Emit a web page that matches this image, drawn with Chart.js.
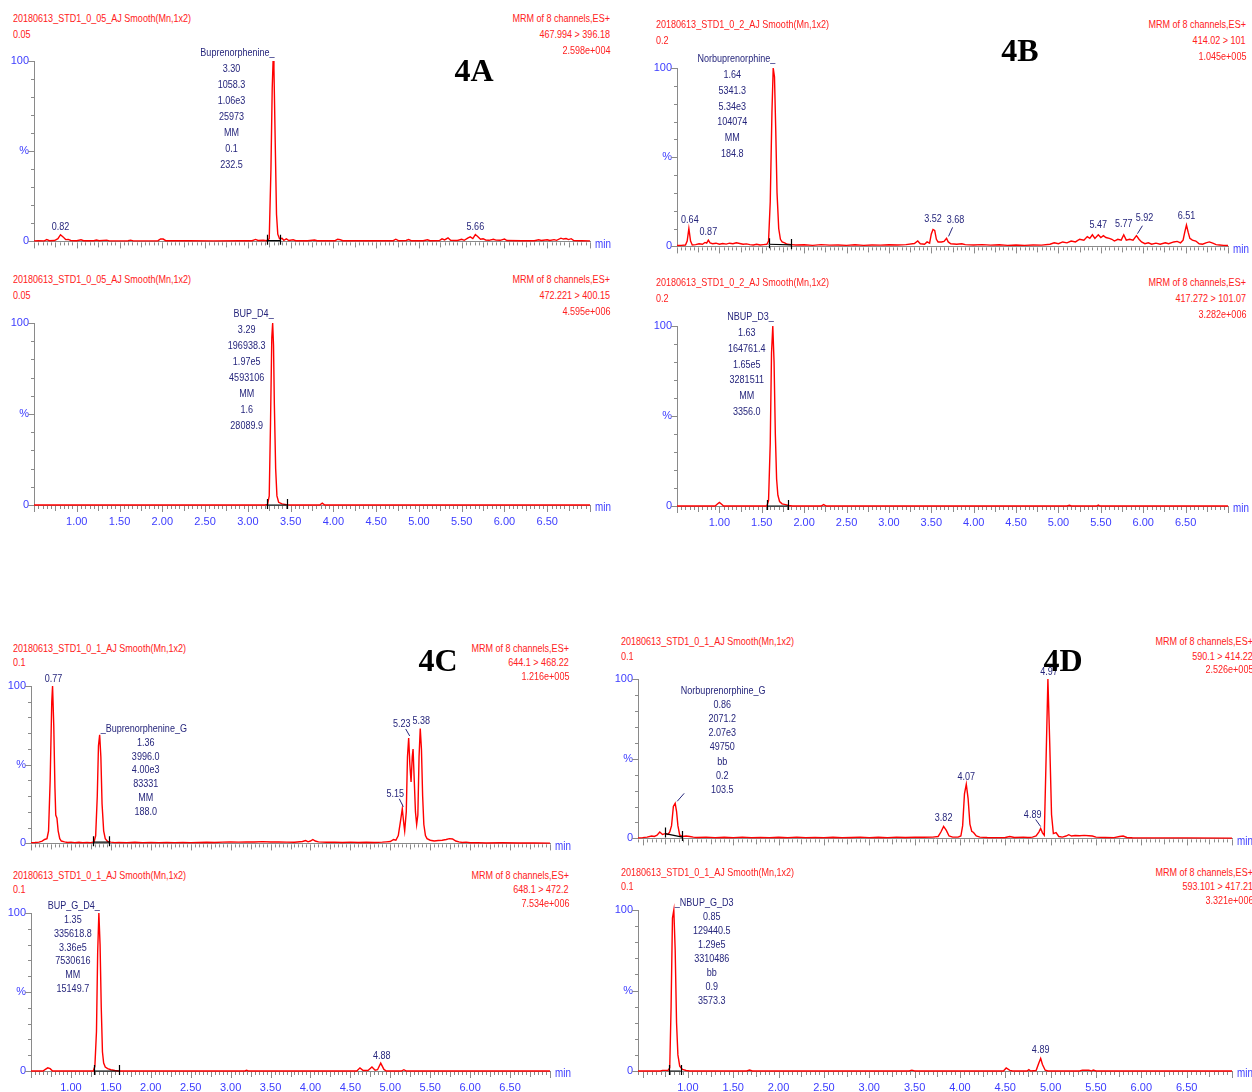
<!DOCTYPE html>
<html><head><meta charset="utf-8">
<script src="https://cdn.jsdelivr.net/npm/chart.js@4"></script>
<style>
body{margin:0;width:1252px;height:1092px;position:relative;background:#fff;overflow:hidden;font-family:'Liberation Sans',Arial,sans-serif;}
canvas{position:absolute;}
.t{position:absolute;font-family:'Liberation Sans',Arial,sans-serif;font-size:11px;line-height:12px;color:#ff2020;white-space:nowrap;transform:scaleX(0.82);transform-origin:0 50%;}
.t.r{transform-origin:100% 50%;text-align:right;}
.big{position:absolute;font:bold 32px 'Liberation Serif','Times New Roman',serif;color:#000;line-height:32px;transform:translate(-50%,-50%);}
</style></head><body>
<script>
// ---------- tick labels ----------
const xTickValues = [1.0,1.5,2.0,2.5,3.0,3.5,4.0,4.5,5.0,5.5,6.0,6.5];
const xTickText = ['1.00','1.50','2.00','2.50','3.00','3.50','4.00','4.50','5.00','5.50','6.00','6.50'];
const yTickValues = [0,50,100];
const yTickText = ['0','%','100'];

// ---------- 4A top : Buprenorphenine ----------
const tA1 = [0.50,0.55,0.62,0.65,0.68,0.74,0.78,0.81,0.84,0.87,0.90,0.93,1.00,1.05,1.08,1.20,1.23,1.26,1.35,1.38,1.60,1.63,1.66,1.95,1.98,2.01,2.04,2.30,2.60,2.90,3.05,3.09,3.12,3.18,3.22,3.25,3.27,3.285,3.295,3.305,3.32,3.335,3.35,3.37,3.40,3.42,3.45,3.48,3.53,3.56,3.70,3.78,3.81,4.02,4.05,4.08,4.11,4.40,4.70,4.73,4.76,4.85,4.88,4.91,5.05,5.10,5.13,5.24,5.27,5.30,5.34,5.37,5.45,5.50,5.53,5.57,5.60,5.63,5.66,5.69,5.72,5.75,5.78,5.82,5.87,5.90,5.95,6.00,6.03,6.20,6.35,6.40,6.43,6.50,6.53,6.58,6.61,6.66,6.69,6.72,6.75,6.78,6.81,6.90,7.00];
const pA1 = [0.3,0.4,0.3,1.0,0.4,0.5,1.5,3.7,2.5,1.0,1.1,0.5,0.4,0.9,0.4,0.4,0.8,0.4,0.7,0.3,0.4,0.7,0.3,0.4,1.4,1.3,0.4,0.4,0.3,0.4,0.4,1.1,0.5,0.6,0.4,1.5,40,85,100,96,55,15,4,1.5,1.7,0.6,1.4,0.5,0.9,0.4,0.4,0.8,0.4,0.4,1.2,0.9,0.4,0.4,0.4,1.2,0.4,0.5,1.0,0.4,0.4,0.9,0.4,0.5,1.4,0.8,2.0,0.6,0.5,1.2,0.6,1.8,2.5,1.6,3.8,2.6,1.2,1.5,0.8,0.6,1.2,0.7,0.6,1.3,0.5,0.4,0.4,0.9,0.5,0.9,0.5,1.0,0.6,1.8,1.3,1.6,1.0,1.5,0.5,0.4,0.3];
const infoA1 = ['3.30','1058.3','1.06e3','25973','MM','0.1','232.5'];

// ---------- 4A bottom : BUP_D4 ----------
const tA2 = [0.50,3.20,3.23,3.25,3.265,3.28,3.29,3.30,3.31,3.325,3.34,3.36,3.40,3.45,3.50,3.84,3.87,3.90,7.00];
const pA2 = [0,0,0.3,5,45,92,100,88,55,20,5,1.5,0.6,0.2,0,0,1.0,0,0];
const infoA2 = ['3.29','196938.3','1.97e5','4593106','MM','1.6','28089.9'];

// ---------- 4B top : Norbuprenorphine ----------
const tB1 = [0.50,0.55,0.60,0.62,0.64,0.66,0.68,0.72,0.76,0.80,0.83,0.85,0.87,0.89,0.92,0.96,1.00,1.04,1.08,1.12,1.16,1.20,1.24,1.28,1.32,1.36,1.40,1.44,1.48,1.52,1.56,1.58,1.60,1.62,1.635,1.65,1.665,1.68,1.70,1.72,1.74,1.77,1.80,1.85,1.90,2.00,2.10,2.20,2.30,2.40,2.50,2.60,2.70,2.80,2.90,3.00,3.10,3.20,3.30,3.34,3.37,3.42,3.45,3.48,3.50,3.52,3.54,3.56,3.58,3.62,3.65,3.68,3.70,3.73,3.80,3.86,3.90,4.00,4.10,4.20,4.30,4.40,4.50,4.60,4.70,4.80,4.90,4.95,5.00,5.05,5.10,5.15,5.20,5.25,5.30,5.34,5.37,5.40,5.43,5.47,5.50,5.53,5.56,5.60,5.63,5.66,5.70,5.74,5.77,5.80,5.84,5.88,5.92,5.95,5.98,6.02,6.06,6.10,6.15,6.20,6.26,6.30,6.36,6.40,6.44,6.47,6.49,6.51,6.53,6.55,6.58,6.62,6.66,6.70,6.74,6.78,6.82,6.86,6.90,6.95,7.00];
const pB1 = [0.5,0.6,0.8,3,10,3,0.8,1.0,1.5,1.2,2.2,1.8,3.5,2.0,1.5,1.8,1.2,1.6,1.3,1.8,1.5,2.0,1.6,1.2,1.4,1.0,0.8,1.2,0.8,1.0,1.2,3,25,75,100,95,65,30,10,4,2.5,2.0,1.2,1.0,0.8,0.9,0.6,1.0,0.7,0.8,0.6,0.9,0.6,0.8,0.7,0.9,0.8,1.0,1.6,3.0,1.5,1.2,2.5,1.8,7,9.5,9,4,2.5,2.5,2.8,4.5,2.5,1.5,1.2,1.5,1.0,0.8,1.0,0.7,0.9,0.6,0.8,0.6,0.8,0.7,1.2,2.0,1.5,2.5,2.0,3.0,2.5,4.0,3.5,5.5,4.5,6.5,4.5,6.5,5.0,6.0,5.0,4.5,4.0,3.0,4.0,3.5,6.5,3.5,4.0,3.5,6.0,4.0,2.5,1.5,2.0,1.2,1.8,1.2,2.0,1.5,2.5,2.8,2.0,3.5,8,12,8,4.5,3.5,3.0,1.5,1.2,2.0,2.5,1.8,1.0,0.8,0.6,0.5];
const infoB1 = ['1.64','5341.3','5.34e3','104074','MM','184.8'];

// ---------- 4B bottom : NBUP_D3 ----------
const tB2 = [0.50,0.95,0.98,1.00,1.02,1.05,1.56,1.58,1.60,1.615,1.63,1.645,1.66,1.675,1.69,1.71,1.74,1.78,1.82,1.86,2.20,2.23,2.26,5.10,5.13,5.15,5.45,5.47,5.49,7.00];
const pB2 = [0,0,1.2,2.0,1.2,0,0,3,35,85,100,80,40,15,6,2.5,1.2,0.8,0.3,0,0,0.8,0,0,0.4,0,0,0.5,0,0];
const infoB2 = ['1.63','164761.4','1.65e5','3281511','MM','3356.0'];

// ---------- 4C top : Buprenorphenine_G ----------
const tC1 = [0.50,0.55,0.60,0.64,0.67,0.70,0.72,0.74,0.76,0.77,0.785,0.80,0.81,0.825,0.84,0.86,0.88,0.92,0.96,1.00,1.05,1.10,1.15,1.20,1.25,1.29,1.31,1.33,1.345,1.36,1.375,1.39,1.41,1.43,1.46,1.50,1.55,1.60,1.70,1.80,1.90,2.00,2.10,2.20,2.30,2.40,2.50,2.60,2.70,2.80,2.90,3.00,3.10,3.20,3.30,3.40,3.50,3.60,3.70,3.80,3.90,3.94,3.97,4.00,4.03,4.06,4.10,4.20,4.30,4.40,4.50,4.60,4.70,4.80,4.90,4.95,5.00,5.04,5.07,5.10,5.13,5.15,5.17,5.18,5.20,5.215,5.23,5.245,5.26,5.275,5.285,5.30,5.315,5.33,5.345,5.36,5.375,5.39,5.405,5.42,5.44,5.46,5.50,5.55,5.60,5.65,5.70,5.74,5.78,5.82,5.86,5.90,5.95,6.00,6.10,6.20,6.40,6.60,6.80,7.00];
const pC1 = [0.5,0.6,0.8,1.5,2.5,3,8,40,90,100,75,35,18,16,8,3,1.5,1.0,0.6,0.8,0.5,0.7,0.5,0.6,0.5,1.0,5,30,62,69,55,25,8,3,1.2,0.8,0.5,0.6,0.5,0.7,0.5,0.6,0.5,0.6,0.5,0.6,0.5,0.6,0.7,0.6,0.8,0.9,0.8,1.0,0.9,1.1,0.9,1.0,0.8,0.7,1.2,1.8,1.0,1.5,2.5,1.5,1.0,0.7,0.8,0.6,0.8,0.6,0.7,0.6,0.8,1.0,1.2,2.5,2.0,5,15,22,12,8,20,55,67,50,39,55,60,40,20,12,18,55,73,60,30,12,5,3,2.0,1.5,1.8,2.0,2.5,3,2.8,1.5,1.0,0.6,0.8,0.4,0.5,0.3,0.4,0.3,0.3,0.2];
const infoC1 = ['1.36','3996.0','4.00e3','83331','MM','188.0'];

// ---------- 4C bottom : BUP_G_D4 ----------
const tC2 = [0.50,0.65,0.68,0.71,0.74,0.77,1.28,1.30,1.32,1.335,1.35,1.365,1.38,1.395,1.41,1.43,1.46,1.50,1.55,1.60,3.18,3.20,3.22,4.58,4.62,4.66,4.72,4.77,4.81,4.84,4.88,4.92,4.95,5.14,5.17,5.20,7.00];
const pC2 = [0,0,1.0,2.0,1.5,0,0,3,25,75,100,80,40,12,5,2.5,1.5,0.8,0.3,0,0,0.5,0,0,2.0,0.3,0.3,2.5,0.5,0.8,5,1.0,0,0,0.8,0,0];
const infoC2 = ['1.35','335618.8','3.36e5','7530616','MM','15149.7'];

// ---------- 4D top : Norbuprenorphine_G ----------
const tD1 = [0.45,0.50,0.55,0.60,0.63,0.66,0.69,0.72,0.75,0.78,0.80,0.82,0.84,0.86,0.875,0.89,0.91,0.94,0.98,1.02,1.06,1.10,1.20,1.30,1.40,1.50,1.60,1.70,1.80,1.90,2.00,2.10,2.20,2.30,2.40,2.50,2.60,2.70,2.80,2.90,3.00,3.10,3.20,3.30,3.40,3.50,3.60,3.70,3.76,3.79,3.82,3.85,3.88,3.92,3.98,4.01,4.03,4.05,4.07,4.09,4.11,4.13,4.15,4.18,4.22,4.30,4.40,4.50,4.55,4.60,4.70,4.75,4.80,4.84,4.87,4.89,4.91,4.93,4.95,4.97,4.99,5.01,5.03,5.06,5.09,5.13,5.17,5.20,5.23,5.27,5.32,5.37,5.42,5.46,5.50,5.60,5.70,5.76,5.80,5.84,5.90,6.00,6.20,6.50,7.00];
const pD1 = [0.3,0.5,0.8,1.5,1.2,2.0,4,2.5,3,2.5,4,8,20,22,17,8,2,1.2,1.5,1.2,0.8,0.6,0.8,0.5,0.7,0.5,0.8,0.5,0.6,0.5,0.7,0.5,0.8,0.5,0.6,0.5,0.7,0.5,0.6,0.8,0.5,0.7,0.5,0.8,0.6,0.8,0.7,0.8,1.2,4,7.5,5,1.5,0.8,0.8,1.5,8,28,34,25,9,4.5,3.7,1.5,0.8,0.6,0.5,0.6,1.2,0.6,0.8,0.6,0.8,1.5,4,6.2,3.5,2,50,100,60,15,3,3.7,1.2,0.8,1.5,2.3,1.5,1.8,1.7,1.9,1.7,1.5,0.8,0.6,0.5,1.2,1.5,0.6,0.4,0.3,0.3,0.3,0.2];
const infoD1 = ['0.86','2071.2','2.07e3','49750','bb','0.2','103.5'];

// ---------- 4D bottom : NBUP_G_D3 ----------
const tD2 = [0.45,0.70,0.72,0.75,0.78,0.80,0.815,0.83,0.845,0.86,0.875,0.89,0.91,0.94,0.98,1.02,1.65,1.68,1.71,3.44,3.47,3.50,4.48,4.51,4.55,4.58,4.74,4.76,4.78,4.84,4.87,4.89,4.91,4.94,4.97,5.32,5.35,5.42,5.45,5.47,5.50,7.00];
const pD2 = [0,0,0.4,0.4,0.3,2,40,95,100,75,30,10,3,1,0.3,0,0,0.6,0,0,0.5,0,0,1.9,0.4,0,0,0.8,0,0.3,5,7.8,4,0.5,0,0,0.5,0.5,0,0.6,0,0];
const infoD2 = ['0.85','129440.5','1.29e5','3310486','bb','0.9','3573.3'];

// ---------- header texts ----------
const fileA = ['20180613_STD1_0_05_AJ Smooth(Mn,1x2)','0.05'];
const fileB = ['20180613_STD1_0_2_AJ Smooth(Mn,1x2)','0.2'];
const fileCD = ['20180613_STD1_0_1_AJ Smooth(Mn,1x2)','0.1'];
const mrmA1 = ['MRM of 8 channels,ES+','467.994 > 396.18','2.598e+004'];
const mrmA2 = ['MRM of 8 channels,ES+','472.221 > 400.15','4.595e+006'];
const mrmB1 = ['MRM of 8 channels,ES+','414.02 > 101','1.045e+005'];
const mrmB2 = ['MRM of 8 channels,ES+','417.272 > 101.07','3.282e+006'];
const mrmC1 = ['MRM of 8 channels,ES+','644.1 > 468.22','1.216e+005'];
const mrmC2 = ['MRM of 8 channels,ES+','648.1 > 472.2','7.534e+006'];
const mrmD1 = ['MRM of 8 channels,ES+','590.1 > 414.22','2.526e+005'];
const mrmD2 = ['MRM of 8 channels,ES+','593.101 > 417.21','3.321e+006'];

const FONT = "'Liberation Sans',Arial,sans-serif";
const NARROW = 0.82;
const RED = '#ff0000', NAVY = '#26267c', BLUE = '#3c3cff', GRAY = '#8a8a8a';

const panels = [
 {times:tA1, vals:pA1, ax:34, y100:61, y0:243, xEnd:590, tmin:0.5, tmax:7, showX:false,
  L:{x:13, y:[18,34], t:fileA}, R:{x:610, y:[18,34,50], t:mrmA1}, integ:[3.22,0.4,3.38,0.4],
  notes:[{at:0.82,text:'0.82',dx:0,dy:-8},{at:5.66,text:'5.66',dx:0,dy:-8},
         {at:3.30,name:'Buprenorphenine_',nAlign:'right',ndx:1.5,ndy:-8,vals:infoA1,vdx:-41.5,vdy:8,lh:16}]},
 {times:tA2, vals:pA2, ax:34, y100:323, y0:505, xEnd:590, tmin:0.5, tmax:7, showX:true,
  L:{x:13, y:[279,295], t:fileA}, R:{x:610, y:[279,295,311], t:mrmA2}, integ:[3.22,0,3.46,0],
  notes:[{at:3.29,name:'BUP_D4_',nAlign:'right',ndx:1,ndy:-9,vals:infoA2,vdx:-26,vdy:7,lh:16}]},
 {times:tB1, vals:pB1, ax:677, y100:68, y0:248, xEnd:1228, tmin:0.5, tmax:7, showX:false,
  L:{x:656, y:[24,40], t:fileB}, R:{x:1246, y:[24,40,56], t:mrmB1}, integ:[1.58,1.2,1.85,0.8],
  notes:[{at:1.64,name:'Norbuprenorphine_',nAlign:'right',ndx:2,ndy:-9,vals:infoB1,vdx:-41,vdy:7,lh:15.8},
         {at:0.64,text:'0.64',dx:1,dy:-9},{at:0.87,text:'0.87',dx:0,dy:-8},{at:3.52,text:'3.52',dx:0,dy:-10},
         {at:3.68,text:'3.68',dx:9,dy:-18,lead:[2,-2,6,-11]},{at:5.47,text:'5.47',dx:0,dy:-10},
         {at:5.77,text:'5.77',dx:0,dy:-11},{at:5.92,text:'5.92',dx:8,dy:-18,lead:[1,-2,6,-10]},
         {at:6.51,text:'6.51',dx:0,dy:-9}]},
 {times:tB2, vals:pB2, ax:677, y100:326, y0:506, xEnd:1228, tmin:0.5, tmax:7, showX:true,
  L:{x:656, y:[282,298], t:fileB}, R:{x:1246, y:[282,298,314], t:mrmB2}, integ:[1.56,0,1.81,0],
  notes:[{at:1.63,name:'NBUP_D3_',nAlign:'right',ndx:1,ndy:-9,vals:infoB2,vdx:-26,vdy:7,lh:15.8}]},
 {times:tC1, vals:pC1, ax:31, y100:686, y0:845, xEnd:550, tmin:0.5, tmax:7, showX:false,
  L:{x:13, y:[648,662], t:fileCD}, R:{x:569, y:[648,662,676], t:mrmC1}, integ:[1.28,0.8,1.48,0.8],
  notes:[{at:0.77,text:'0.77',dx:1,dy:-7},
         {at:1.36,name:'_Buprenorphenine_G',nAlign:'left',ndx:1,ndy:-6,vals:infoC1,vdx:46,vdy:8,lh:13.8},
         {at:5.15,text:'5.15',dx:-7,dy:-15,lead:[1,-2,-3,-10]},{at:5.23,text:'5.23',dx:-7,dy:-14,lead:[1,-2,-3,-9]},
         {at:5.38,text:'5.38',dx:1,dy:-8}]},
 {times:tC2, vals:pC2, ax:31, y100:913, y0:1071, xEnd:550, tmin:0.5, tmax:7, showX:true,
  L:{x:13, y:[875,889], t:fileCD}, R:{x:569, y:[875,889,903], t:mrmC2}, integ:[1.29,0,1.60,0],
  notes:[{at:1.35,name:'BUP_G_D4_',nAlign:'right',ndx:1,ndy:-7,vals:infoC2,vdx:-26,vdy:7,lh:13.8},
         {at:4.88,text:'4.88',dx:1,dy:-7}]},
 {times:tD1, vals:pD1, ax:638, y100:679, y0:840, xEnd:1232, tmin:0.45, tmax:7, showX:false,
  L:{x:621, y:[641,656], t:fileCD}, R:{x:1253, y:[641,656,669], t:mrmD1}, integ:[0.75,3,0.94,0.8],
  notes:[{at:0.86,name:'Norbuprenorphine_G',nAlign:'center',ndx:48,ndy:-112.6,vals:infoD1,vdx:47,vdy:-98.6,lh:14.2,lead:[2,-2,9,-10]},
         {at:3.82,text:'3.82',dx:0,dy:-8},{at:4.07,text:'4.07',dx:0,dy:-7},
         {at:4.89,text:'4.89',dx:-8,dy:-14,lead:[0,-2,-5,-9]},{at:4.97,text:'4.97',dx:1,dy:-7}]},
 {times:tD2, vals:pD2, ax:638, y100:910, y0:1071, xEnd:1232, tmin:0.45, tmax:7, showX:true,
  L:{x:621, y:[872,886], t:fileCD}, R:{x:1253, y:[872,886,900], t:mrmD2}, integ:[0.79,0,0.92,0],
  notes:[{at:0.85,name:'_NBUP_G_D3',nAlign:'left',ndx:1,ndy:-7,vals:infoD2,vdx:38,vdy:7,lh:14},
         {at:4.89,text:'4.89',dx:0,dy:-8}]}
];

const bigLabels = [['4A',474,70],['4B',1020,50],['4C',438,660],['4D',1063,660]];

function narrowText(ctx, s, x, y, align){
  ctx.save(); ctx.translate(x, y); ctx.scale(NARROW, 1);
  ctx.textAlign = align; ctx.fillText(s, 0, 0); ctx.restore();
}

const chromPlugin = {
  id:'chrom',
  afterDatasetsDraw(chart){
    const p = chart.options.plugins.chrom.panel;
    const {ctx, scales:{x, y}} = chart;
    const left = x.left, base = y.getPixelForValue(0);
    ctx.save();
    // tick marks
    ctx.strokeStyle = GRAY; ctx.lineWidth = 1;
    ctx.beginPath();
    const k0 = Math.ceil(p.tmin*20-1e-6), k1 = Math.floor(p.tmax*20+1e-6);
    for (let k=k0;k<=k1;k++){
      const px = Math.round(x.getPixelForValue(k/20))+0.5;
      const len = (k%10===0)?6:((k%5===0)?5:3);
      ctx.moveTo(px, base+1); ctx.lineTo(px, base+1+len);
    }
    for (let v=0; v<=100; v+=10){
      const py = Math.round(y.getPixelForValue(v))+0.5;
      const len = (v%50===0)?6:3;
      ctx.moveTo(left-len, py); ctx.lineTo(left, py);
    }
    ctx.stroke();
    // integration baseline marker
    const g = p.integ;
    const ax1=x.getPixelForValue(g[0]), ay1=y.getPixelForValue(g[1]);
    const ax2=x.getPixelForValue(g[2]), ay2=y.getPixelForValue(g[3]);
    ctx.strokeStyle='#000'; ctx.lineWidth=1.2;
    ctx.beginPath();
    ctx.moveTo(ax1,ay1); ctx.lineTo(ax2,ay2);
    ctx.moveTo(Math.round(ax1)+0.5,ay1-6); ctx.lineTo(Math.round(ax1)+0.5,ay1+4);
    ctx.moveTo(Math.round(ax2)+0.5,ay2-6); ctx.lineTo(Math.round(ax2)+0.5,ay2+4);
    ctx.stroke();
    // annotations
    ctx.fillStyle = NAVY; ctx.strokeStyle = NAVY; ctx.lineWidth = 1;
    ctx.font = '11px ' + FONT; ctx.textBaseline = 'middle';
    for (const n of p.notes){
      let idx = 0, best = 1e9;
      p.times.forEach((t,i)=>{ const d=Math.abs(t-n.at); if (d<best-1e-9){best=d; idx=i;} });
      const axp = x.getPixelForValue(p.times[idx]);
      const ayp = y.getPixelForValue(p.vals[idx]);
      if (n.lead){
        ctx.beginPath(); ctx.moveTo(axp+n.lead[0], ayp+n.lead[1]); ctx.lineTo(axp+n.lead[2], ayp+n.lead[3]); ctx.stroke();
      }
      if (n.text) narrowText(ctx, n.text, axp+n.dx, ayp+n.dy, 'center');
      if (n.name){
        narrowText(ctx, n.name, axp+n.ndx, ayp+n.ndy, n.nAlign);
        n.vals.forEach((s,i)=>narrowText(ctx, s, axp+n.vdx, ayp+n.vdy+i*n.lh, 'center'));
      }
    }
    // "min" unit label
    ctx.fillStyle = BLUE; ctx.font='12px '+FONT;
    narrowText(ctx, 'min', x.right+5, base+3, 'left');
    ctx.restore();
  }
};

function addText(txt, x, y, right){
  const d=document.createElement('div'); d.className = right ? 't r' : 't'; d.textContent=txt;
  d.style.top=(y-6)+'px';
  if (right){ d.style.right=(1252-x)+'px'; } else d.style.left=x+'px';
  document.body.appendChild(d);
}

panels.forEach(p=>{
  const padTop=14, yW=34, padR=28, xH=p.showX?30:10;
  const W = yW + (p.xEnd-p.ax) + padR;
  const H = padTop + (p.y0-p.y100) + xH;
  const c=document.createElement('canvas');
  c.width=W; c.height=H;
  c.style.left=(p.ax-yW)+'px'; c.style.top=(p.y100-padTop)+'px';
  c.style.width=W+'px'; c.style.height=H+'px';
  document.body.appendChild(c);
  new Chart(c, {
    type:'line',
    data:{datasets:[{data:p.times.map((t,i)=>({x:t,y:p.vals[i]})), borderColor:RED, borderWidth:1.4,
      pointRadius:0, tension:0, clip:false, fill:false}]},
    options:{
      responsive:false, animation:false, devicePixelRatio:1, events:[],
      layout:{padding:{top:padTop,right:padR,left:0,bottom:0}},
      plugins:{legend:{display:false}, tooltip:{enabled:false}, chrom:{panel:p}},
      scales:{
        x:{type:'linear', min:p.tmin, max:p.tmax,
           grid:{display:false, drawTicks:false},
           border:{display:true, color:GRAY, width:1},
           ticks:{display:p.showX, stepSize:0.5, autoSkip:false, maxRotation:0, padding:10, color:BLUE,
                  font:{size:11, family:FONT},
                  callback:(v)=>{const i=xTickValues.findIndex(q=>Math.abs(q-v)<1e-6); return i<0?'':xTickText[i];}},
           afterFit:(s)=>{s.height=xH;}},
        y:{min:0, max:100,
           grid:{display:false, drawTicks:false},
           border:{display:true, color:GRAY, width:1},
           ticks:{stepSize:50, padding:5, color:BLUE, font:{size:11, family:FONT},
                  callback:(v)=>{const i=yTickValues.indexOf(v); return i<0?'':yTickText[i];}},
           afterFit:(s)=>{s.width=yW;}}
      }
    },
    plugins:[chromPlugin]
  });
  p.L.t.forEach((s,i)=>addText(s, p.L.x, p.L.y[i], false));
  p.R.t.forEach((s,i)=>addText(s, p.R.x, p.R.y[i], true));
});

bigLabels.forEach(b=>{
  const d=document.createElement('div'); d.className='big'; d.textContent=b[0];
  d.style.left=b[1]+'px'; d.style.top=b[2]+'px'; document.body.appendChild(d);
});
</script>
</body></html>
